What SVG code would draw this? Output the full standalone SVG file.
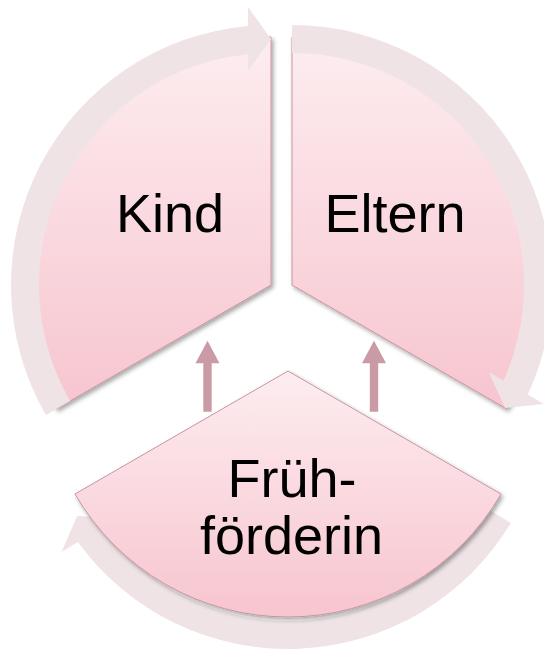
<svg xmlns="http://www.w3.org/2000/svg" width="544" height="651" viewBox="0 0 544 651">
  <defs>
    <linearGradient id="segGrad" x1="0" y1="0" x2="0" y2="1">
      <stop offset="0" stop-color="#FDEDF0"/>
      <stop offset="1" stop-color="#F7C5CF"/>
    </linearGradient>
    <filter id="shadow" x="-10%" y="-10%" width="120%" height="120%">
      <feDropShadow dx="2" dy="2.5" stdDeviation="2" flood-color="#000" flood-opacity="0.35"/>
    </filter>
  </defs>
  <style>
    .seg { fill: url(#segGrad); stroke: #C8949F; stroke-width: 1; filter: url(#shadow); }
    .band { fill: #EFE3E6; stroke: none; }
    .up { fill: #CA9BA5; stroke: none; }
    .lbl { font-family: "Liberation Sans", Arial, sans-serif; font-size: 54px; fill: #000; text-anchor: middle; }
  </style>

  <g id="node-kind">
    <path class="seg" d="M 271,285 L 271,37 A 248 248 0 0 0 56.23,409 Z"/>
    <text class="lbl" x="170" y="232">Kind</text>
  </g>

  <g id="node-eltern">
    <path class="seg" d="M 292,285 L 292,37 A 248 248 0 0 1 506.77,409 Z"/>
    <text class="lbl" x="395" y="232">Eltern</text>
  </g>

  <g id="connectors">
    <!-- cycle arrow Kind -> Eltern -->
    <path class="band" d="M 45.83,415 A 260 260 0 0 1 248,26.02 L 248,7 L 271,39 L 248,71 L 248,54.14 A 232 232 0 0 0 70.08,401 Z"/>
    <!-- cycle arrow Eltern -> Frühförderin -->
    <path class="band" d="M 292,25 A 260 260 0 0 1 527.78,394.57 L 544.25,404.08 L 505.04,408 L 488.82,372.08 L 503.43,380.51 A 232 232 0 0 0 292,53 Z"/>
    <!-- cycle arrow Frühförderin -> Kind -->
    <path class="band" d="M 510.86,522.91 A 260 260 0 0 1 77.86,542.1 L 61.56,551.89 L 77.14,515.7 L 116.42,518.93 L 101.96,527.61 A 232 232 0 0 0 486.86,508.49 Z"/>
    <!-- upward arrows -->
    <path class="up" d="M 203.3,411.7 L 203.3,363.3 L 195.5,363.3 L 207.5,340.7 L 219.5,363.3 L 211.7,363.3 L 211.7,411.7 Z"/>
    <path class="up" d="M 369.8,411.7 L 369.8,363.3 L 362,363.3 L 374,340.7 L 386,363.3 L 378.2,363.3 L 378.2,411.7 Z"/>
  </g>

  <g id="node-fruehfoerderin">
    <path class="seg" d="M 288,371 L 501.04,494 A 246 246 0 0 1 74.96,494 Z"/>
    <text class="lbl" x="292" y="496.5">Früh-</text>
    <text class="lbl" x="291.5" y="554">förderin</text>
  </g>
</svg>
